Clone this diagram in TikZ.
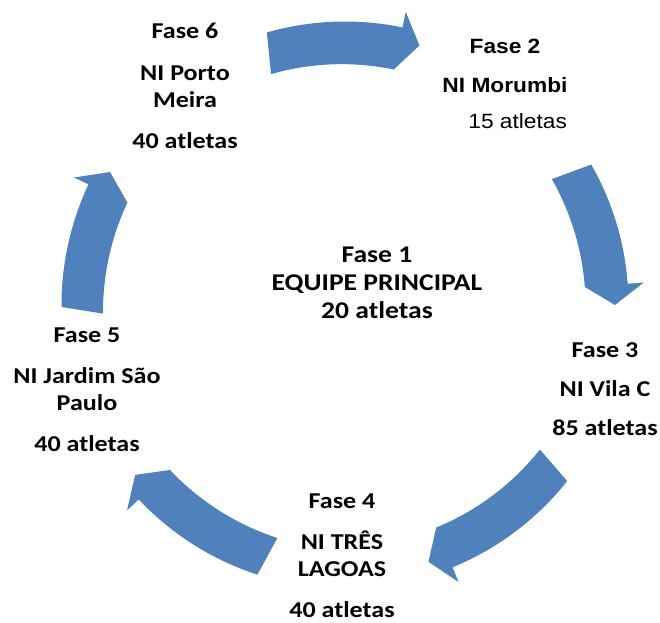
\documentclass[tikz,border=0pt]{standalone}
\usepackage{fontspec}
\setmainfont{Carlito}[FakeStretch=1.15]
\newfontfamily\arialfont{Liberation Sans}[FakeStretch=1.1]
\definecolor{arrowblue}{RGB}{79,129,189}
\tikzset{
  phase/.style={anchor=north, inner sep=0pt, align=center,
    font=\fontsize{17}{20.5}\selectfont\bfseries},
  phasecenter/.style={anchor=north, inner sep=0pt, align=center,
    font=\fontsize{18}{21}\selectfont\bfseries},
  phasearial/.style={anchor=north, inner sep=0pt, align=center,
    font=\arialfont\fontsize{15.5}{20}\selectfont},
  cyclearrow/.style={fill=arrowblue, draw=none},
}
\newcommand{\arcarrow}[2]{%
  \fill[cyclearrow] (#1:283.5) arc[start angle=#1, end angle=#2+4.3, radius=283.5]
    -- (#2+4.3:299.5) -- (#2:270) -- (#2+4.3:240.5)
    arc[start angle=#2+4.3, end angle=#1, radius=256.5] -- cycle;}
\begin{document}
\begin{tikzpicture}[x=0.75pt,y=-0.75pt]
\useasboundingbox (0,0) rectangle (660,622);
\begin{scope}[shift={(345,305)}, yscale=-1]
  \arcarrow{106}{74}
  \arcarrow{29.7}{0}
  \arcarrow{-38.4}{-72}
  \arcarrow{-108}{-141}
  \arcarrow{180.4}{150.5}
\end{scope}
\node[phasecenter] (f1) at (377,247) {Fase 1\\EQUIPE PRINCIPAL\\20 atletas};
\node[phasearial] (f2) at (505,39) {\bfseries Fase 2\\[9pt]\bfseries NI Morumbi\\[7pt]\hspace*{19pt}15 atletas};
\node[phase] (f3) at (605,342) {Fase 3\\[9pt]NI Vila C\\[9pt]85 atletas};
\node[phase] (f4) at (342,494) {Fase 4\\[10pt]NI TRÊS\\LAGOAS\\[10pt]40 atletas};
\node[phase] (f5) at (87,328) {Fase 5\\[10pt]NI Jardim São\\Paulo\\[10pt]40 atletas};
\node[phase] (f6) at (185,23) {Fase 6\\[10.5pt]NI Porto\\Meira\\[10.5pt]40 atletas};
\end{tikzpicture}
\end{document}
